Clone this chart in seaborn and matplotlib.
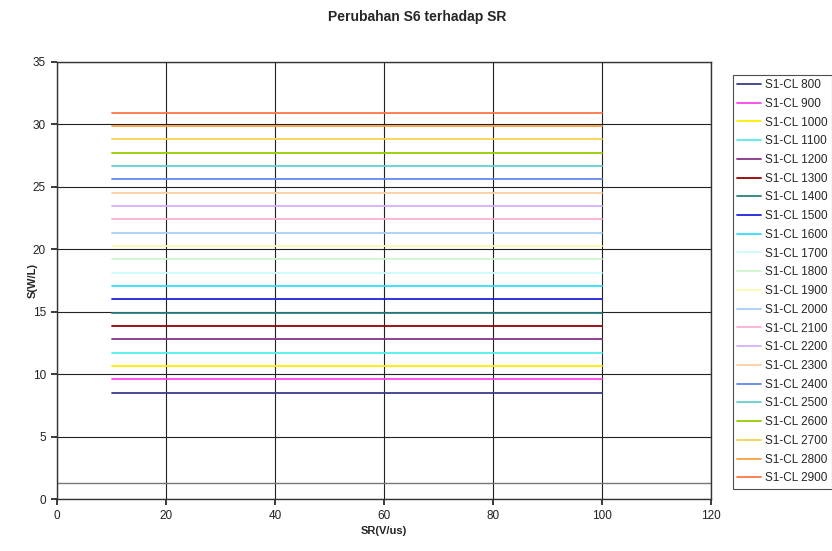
import matplotlib
matplotlib.use("Agg")
import matplotlib.pyplot as plt
import seaborn as sns
import pandas as pd

# ---- data ----
sr_values = [10, 20, 30, 40, 50, 60, 70, 80, 90, 100]
cl_labels = ["S1-CL 800", "S1-CL 900", "S1-CL 1000", "S1-CL 1100", "S1-CL 1200",
             "S1-CL 1300", "S1-CL 1400", "S1-CL 1500", "S1-CL 1600", "S1-CL 1700",
             "S1-CL 1800", "S1-CL 1900", "S1-CL 2000", "S1-CL 2100", "S1-CL 2200",
             "S1-CL 2300", "S1-CL 2400", "S1-CL 2500", "S1-CL 2600", "S1-CL 2700",
             "S1-CL 2800", "S1-CL 2900"]
s_values = [8.52, 9.59, 10.66, 11.72, 12.79, 13.85, 14.92, 15.99, 17.05, 18.12,
            19.18, 20.25, 21.32, 22.38, 23.45, 24.51, 25.58, 26.65, 27.71, 28.78,
            29.84, 30.91]
baseline_value = [1.28]

colors = ["#3c3c8c", "#ff44ee", "#ffee00", "#55eeee", "#883388", "#990000",
          "#2a8080", "#2222dd", "#33ddff", "#ccfcfc", "#cdf6cd", "#fcfcb0",
          "#a8d0f8", "#fcb0d4", "#d4b0f8", "#fcd0a0", "#6688f0", "#66d0d0",
          "#99cc00", "#f8d050", "#f8a040", "#ff7744"]

rows = []
for lab, v in zip(cl_labels, s_values):
    for x in sr_values:
        rows.append({"SR": x, "S": v, "series": lab})
df = pd.DataFrame(rows)

sns.set_theme(style="white")
plt.rcParams['font.family'] = ['Liberation Sans', 'DejaVu Sans']

fig = plt.figure(figsize=(8.32, 5.51), dpi=100)
ax = fig.add_axes([0.0685, 0.094, 0.7865, 0.794])

for b in baseline_value:
    ax.axhline(b, color="#777777", lw=1.0, zorder=1)

sns.lineplot(data=df, x="SR", y="S", hue="series", hue_order=cl_labels,
             palette=colors, linewidth=1.3, ax=ax, zorder=3)

ax.set_xlim(0, 120)
ax.set_ylim(0, 35)
ax.set_xticks(range(0, 121, 20))
ax.set_yticks(range(0, 36, 5))
ax.grid(True, color="#222222", lw=0.8)
ax.set_axisbelow(True)
for s in ax.spines.values():
    s.set_color("#333333")
    s.set_linewidth(1.0)
ax.tick_params(axis="both", labelsize=8.5, colors="#222222", length=4,
               direction="out", bottom=True, left=True, pad=4)

ax.set_xlabel("SR(V/us)", fontsize=8, fontweight="bold", labelpad=3)
ax.set_ylabel("S(W/L)", fontsize=8, fontweight="bold", labelpad=-4)
fig.text(0.502, 0.970, "Perubahan S6 terhadap SR", ha="center", va="center",
         fontsize=10, fontweight="bold")

handles, labels = ax.get_legend_handles_labels()
leg = ax.legend(handles, labels, loc="upper left", bbox_to_anchor=(0.8805, 0.864),
                bbox_transform=fig.transFigure, fontsize=8.5, frameon=True,
                fancybox=False, borderpad=0.35, labelspacing=0.57,
                handlelength=2.1, handletextpad=0.3, borderaxespad=0)
leg.get_frame().set_edgecolor("#222222")
leg.get_frame().set_linewidth(0.8)
for h in leg.get_lines():
    h.set_linewidth(1.3)

fig.savefig("out.png", dpi=100, facecolor="white")
